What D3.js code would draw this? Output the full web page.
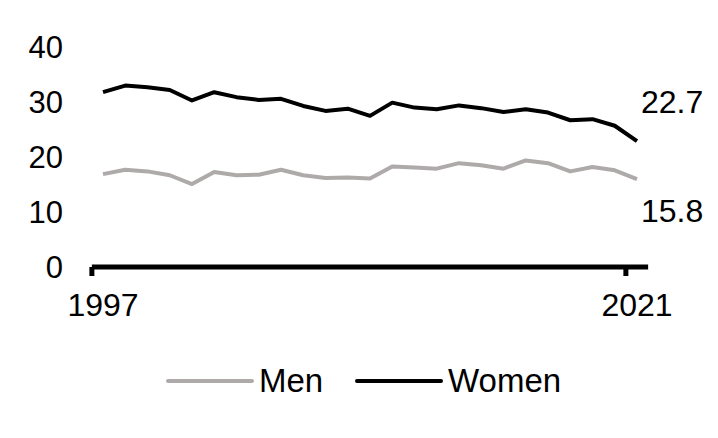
<!DOCTYPE html>
<html><head><meta charset="utf-8">
<script src="https://cdn.jsdelivr.net/npm/d3@7"></script>
<style>body{margin:0;background:#fff}svg{display:block}text{font-family:"Liberation Sans",Arial,sans-serif;fill:#000}</style>
</head><body>
<svg id="c" width="718" height="438"></svg>
<script>
const years = d3.range(1997, 2022);
const women = [31.6,32.8,32.5,32.0,30.1,31.6,30.7,30.2,30.4,29.1,28.2,28.6,27.3,29.7,28.8,28.5,29.2,28.7,28.0,28.5,27.9,26.5,26.7,25.5,22.7];
const men   = [16.7,17.5,17.2,16.5,14.9,17.1,16.5,16.6,17.5,16.5,16.0,16.1,15.9,18.1,17.9,17.7,18.7,18.3,17.7,19.2,18.7,17.2,18.0,17.4,15.8];
const yTicks = [0,10,20,30,40];
const xLabels = [1997, 2021];
const seriesNames = ["Men","Women"];
const colors = {Men:"#aeaaaa", Women:"#000000"};

const svg = d3.select("#c");
const x = d3.scaleLinear().domain([1997,2021]).range([103,637]);
const y = d3.scaleLinear().domain([0,40]).range([266,46]);
const step = x(1998)-x(1997);
const fs = 31;

// y tick labels
svg.selectAll(".yl").data(yTicks).join("text")
  .attr("x",63).attr("y",d=>y(d)+12)
  .attr("text-anchor","end").attr("font-size",fs).text(d=>d);

// lines
const line = d3.line().x((d,i)=>x(years[i])).y(d=>y(d));
svg.append("path").datum(men).attr("d",line).attr("fill","none")
  .attr("stroke",colors.Men).attr("stroke-width",4).attr("stroke-linejoin","round");
svg.append("path").datum(women).attr("d",line).attr("fill","none")
  .attr("stroke",colors.Women).attr("stroke-width",4).attr("stroke-linejoin","round");

// x axis
const ax = svg.append("g");
ax.append("line").attr("x1",x(1997)-step/2).attr("x2",x(2021)+step/2)
  .attr("y1",y(0)+1).attr("y2",y(0)+1).attr("stroke","#000").attr("stroke-width",5);
ax.selectAll(".tk").data(xLabels).join("line")
  .attr("x1",d=>x(d)-step/2).attr("x2",d=>x(d)-step/2)
  .attr("y1",y(0)+1).attr("y2",y(0)+10).attr("stroke","#000").attr("stroke-width",5);
ax.selectAll(".xl").data(xLabels).join("text")
  .attr("x",d=>x(d)).attr("y",y(0)+50).attr("text-anchor","middle")
  .attr("font-size",32).text(d=>d);

// end labels
svg.append("text").attr("x",x(2021)+4).attr("y",y(women[women.length-1])-28)
  .attr("font-size",32).text(women[women.length-1].toFixed(1));
svg.append("text").attr("x",x(2021)+4).attr("y",y(men[men.length-1])+43)
  .attr("font-size",32).text(men[men.length-1].toFixed(1));

// legend
const lg = svg.append("g");
const lx = [168, 357];
seriesNames.forEach((n,i)=>{
  lg.append("line").attr("x1",lx[i]).attr("x2",lx[i]+84).attr("y1",381).attr("y2",381)
    .attr("stroke",colors[n]).attr("stroke-width",4).attr("stroke-linecap","round");
  lg.append("text").attr("x",lx[i]+91).attr("y",392)
    .attr("font-size",33).text(n);
});
</script>
</body></html>
